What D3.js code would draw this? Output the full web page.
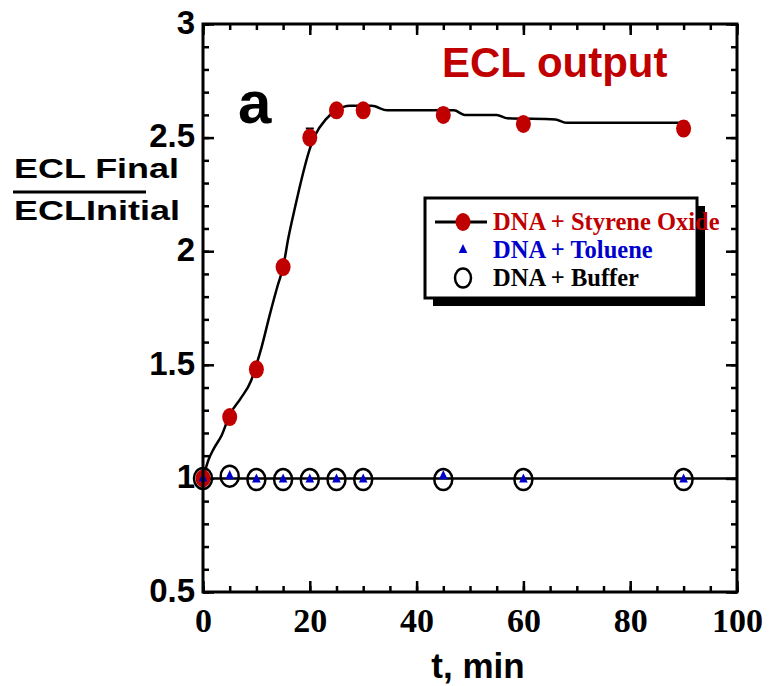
<!DOCTYPE html>
<html>
<head>
<meta charset="utf-8">
<script src="https://cdn.jsdelivr.net/npm/d3@7"></script>
<style>
body { margin: 0; background: #fff; }
</style>
</head>
<body>
<div id="chart"></div>
<script>
var svgWidth = 771;
var svgHeight = 686;

var margin = { top: 24, right: 34, bottom: 94, left: 203 };
var width = svgWidth - margin.left - margin.right;
var height = svgHeight - margin.top - margin.bottom;

// measured points
var times = [0, 5, 10, 15, 20, 25, 30, 45, 60, 90];
var styrene = [1.0, 1.27, 1.48, 1.93, 2.5, 2.62, 2.62, 2.6, 2.56, 2.54];
var styreneErr = [0, 0, 0, 0.02, 0.04, 0, 0, 0.03, 0, 0.03];
var toluene = [1.0, 1.01, 0.995, 0.995, 0.995, 0.995, 0.995, 1.01, 0.995, 0.995];
var buffer = [1.0, 1.01, 0.995, 0.995, 0.995, 0.995, 0.995, 0.995, 0.995, 0.995];

// fitted curve through the styrene oxide data
var fitT = [0, 1, 2, 3.5, 5, 7, 9, 10, 11, 12.5, 14, 15, 16, 17.3, 18.7, 20, 21, 23, 25, 27.5, 31.6, 34.5, 47, 49, 55, 57, 66, 68, 90];
var fitV = [1.0, 1.08, 1.13, 1.19, 1.28, 1.35, 1.43, 1.5, 1.58, 1.72, 1.85, 1.93, 2.06, 2.2, 2.34, 2.45, 2.51, 2.58, 2.62, 2.64, 2.64, 2.62, 2.62, 2.6, 2.6, 2.585, 2.58, 2.565, 2.565];

var xTicks = [0, 20, 40, 60, 80, 100];
var yTicks = [0.5, 1, 1.5, 2, 2.5, 3];

var svg = d3.select("#chart")
	.append("svg")
	.attr("width", svgWidth)
	.attr("height", svgHeight);

var chartGroup = svg.append("g")
	.attr("transform", `translate(${margin.left}, ${margin.top})`);

var x = d3.scaleLinear().domain([0, 100]).range([0, width]);
var y = d3.scaleLinear().domain([0.5, 3]).range([height, 0]);

// ticks (inward, mirrored on all sides)
function tickAxis(axisFn, scale, vals, len, transform) {
	var g = chartGroup.append("g")
		.attr("transform", transform)
		.call(axisFn(scale).tickValues(vals).tickSize(len).tickFormat(""));
	g.select(".domain").remove();
	g.selectAll("line").attr("stroke", "#000").attr("stroke-width", 2.5);
	return g;
}
var xMinor = d3.range(0, 101, 5);
var yMinor = d3.range(5, 31).map(d => d / 10);
tickAxis(d3.axisTop, x, xTicks, 11, `translate(0,${height})`);
tickAxis(d3.axisTop, x, xMinor, 6, `translate(0,${height})`);
tickAxis(d3.axisBottom, x, xTicks, 11, "translate(0,0)");
tickAxis(d3.axisBottom, x, xMinor, 6, "translate(0,0)");
tickAxis(d3.axisRight, y, yTicks, 11, "translate(0,0)");
tickAxis(d3.axisRight, y, yMinor, 6, "translate(0,0)");
tickAxis(d3.axisLeft, y, yTicks, 11, `translate(${width},0)`);
tickAxis(d3.axisLeft, y, yMinor, 6, `translate(${width},0)`);

// tick labels
var yLab = chartGroup.append("g")
	.attr("transform", "translate(-5,0)")
	.call(d3.axisLeft(y).tickValues(yTicks).tickSize(0).tickFormat(d3.format("")));
yLab.select(".domain").remove();
yLab.selectAll("text")
	.attr("font-family", "Liberation Sans, Arial, sans-serif")
	.attr("font-weight", "bold")
	.attr("font-size", 33)
	.attr("fill", "#000")
	.attr("dy", "0.28em");

var xLab = chartGroup.append("g")
	.attr("transform", `translate(0,${height + 13})`)
	.call(d3.axisBottom(x).tickValues(xTicks).tickSize(0).tickFormat(d3.format("")));
xLab.select(".domain").remove();
xLab.selectAll("text")
	.attr("font-family", "Liberation Serif, Times New Roman, serif")
	.attr("font-weight", "bold")
	.attr("font-size", 34)
	.attr("fill", "#000");

// baseline at 1
chartGroup.append("line")
	.attr("x1", x(0)).attr("x2", x(100))
	.attr("y1", y(1)).attr("y2", y(1))
	.attr("stroke", "#000").attr("stroke-width", 2.5);

// fit curve
var fit = fitT.map((t, i) => [t, fitV[i]]);
chartGroup.append("path")
	.datum(fit)
	.attr("fill", "none")
	.attr("stroke", "#000")
	.attr("stroke-width", 2.5)
	.attr("d", d3.line().x(d => x(d[0])).y(d => y(d[1])).curve(d3.curveMonotoneX));

// error bars
times.forEach(function(t, i) {
	if (styreneErr[i] > 0) {
		chartGroup.append("line")
			.attr("x1", x(t)).attr("x2", x(t))
			.attr("y1", y(styrene[i] - styreneErr[i])).attr("y2", y(styrene[i] + styreneErr[i]))
			.attr("stroke", "#000").attr("stroke-width", 2);
		chartGroup.append("line")
			.attr("x1", x(t) - 4).attr("x2", x(t) + 4)
			.attr("y1", y(styrene[i] + styreneErr[i])).attr("y2", y(styrene[i] + styreneErr[i]))
			.attr("stroke", "#000").attr("stroke-width", 2);
	}
});

// buffer (open circles)
chartGroup.selectAll(".buf")
	.data(times)
	.enter()
	.append("ellipse")
	.attr("cx", d => x(d))
	.attr("cy", (d, i) => y(buffer[i]))
	.attr("rx", 9).attr("ry", 10.5)
	.attr("fill", "none")
	.attr("stroke", "#000")
	.attr("stroke-width", 2.5);

// styrene oxide (red dots)
chartGroup.selectAll(".sty")
	.data(times)
	.enter()
	.append("ellipse")
	.attr("cx", d => x(d))
	.attr("cy", (d, i) => y(styrene[i]))
	.attr("rx", 7.5).attr("ry", 9)
	.attr("fill", "#c00000");

// toluene (blue triangles)
var tri = d3.symbol().type(d3.symbolTriangle).size(40);
chartGroup.selectAll(".tol")
	.data(times)
	.enter()
	.append("path")
	.attr("d", tri)
	.attr("transform", (d, i) => `translate(${x(d)},${y(toluene[i])}) scale(0.9,1.1)`)
	.attr("fill", "#0000cc");

// frame
chartGroup.append("rect")
	.attr("width", width).attr("height", height)
	.attr("fill", "none")
	.attr("stroke", "#000")
	.attr("stroke-width", 3);

// legend
var legend = svg.append("g").attr("transform", "translate(425,198)");
legend.append("rect")
	.attr("x", 8).attr("y", 8).attr("width", 272).attr("height", 100)
	.attr("fill", "#000");
legend.append("rect")
	.attr("width", 272).attr("height", 100)
	.attr("fill", "#fff").attr("stroke", "#000").attr("stroke-width", 3);

var legendItems = [
	{ name: "DNA + Styrene Oxide", color: "#c00000" },
	{ name: "DNA + Toluene", color: "#0000cc" },
	{ name: "DNA + Buffer", color: "#000" }
];
legendItems.forEach(function(item, i) {
	var ly = 24 + i * 28;
	if (i === 0) {
		legend.append("line")
			.attr("x1", 10).attr("x2", 62).attr("y1", ly).attr("y2", ly)
			.attr("stroke", "#000").attr("stroke-width", 3);
		legend.append("ellipse")
			.attr("cx", 38).attr("cy", ly).attr("rx", 7.5).attr("ry", 9)
			.attr("fill", "#c00000");
	} else if (i === 1) {
		legend.append("path")
			.attr("d", tri)
			.attr("transform", `translate(38,${ly}) scale(0.9,1.1)`)
			.attr("fill", "#0000cc");
	} else {
		legend.append("ellipse")
			.attr("cx", 38).attr("cy", ly).attr("rx", 8).attr("ry", 9.5)
			.attr("fill", "none").attr("stroke", "#000").attr("stroke-width", 2.5);
	}
	legend.append("text")
		.attr("x", 68).attr("y", ly + 8)
		.attr("font-family", "Liberation Serif, Times New Roman, serif")
		.attr("font-weight", "bold")
		.attr("font-size", 24.5)
		.attr("fill", item.color)
		.text(item.name);
});

// annotations
svg.append("text")
	.attr("x", 442).attr("y", 77)
	.attr("font-family", "Liberation Sans, Arial, sans-serif")
	.attr("font-weight", "bold")
	.attr("font-size", 42)
	.attr("fill", "#c00000")
	.text("ECL output");

svg.append("text")
	.attr("x", 238).attr("y", 123)
	.attr("font-family", "Liberation Sans, Arial, sans-serif")
	.attr("font-weight", "bold")
	.attr("font-size", 60)
	.attr("fill", "#000")
	.text("a");

// y axis title (fraction)
svg.append("text")
	.attr("x", 14).attr("y", 178)
	.attr("font-family", "Liberation Sans, Arial, sans-serif")
	.attr("font-weight", "bold")
	.attr("font-size", 28)
	.attr("textLength", 165)
	.attr("lengthAdjust", "spacingAndGlyphs")
	.attr("fill", "#000")
	.text("ECL Final");
svg.append("line")
	.attr("x1", 13).attr("x2", 146).attr("y1", 192).attr("y2", 192)
	.attr("stroke", "#000").attr("stroke-width", 3);
svg.append("text")
	.attr("x", 14).attr("y", 220)
	.attr("font-family", "Liberation Sans, Arial, sans-serif")
	.attr("font-weight", "bold")
	.attr("font-size", 28)
	.attr("textLength", 166)
	.attr("lengthAdjust", "spacingAndGlyphs")
	.attr("fill", "#000")
	.text("ECLInitial");

// x axis title
svg.append("text")
	.attr("x", 478).attr("y", 678)
	.attr("text-anchor", "middle")
	.attr("font-family", "Liberation Sans, Arial, sans-serif")
	.attr("font-weight", "bold")
	.attr("font-size", 35)
	.attr("fill", "#000")
	.text("t, min");
</script>
</body>
</html>
